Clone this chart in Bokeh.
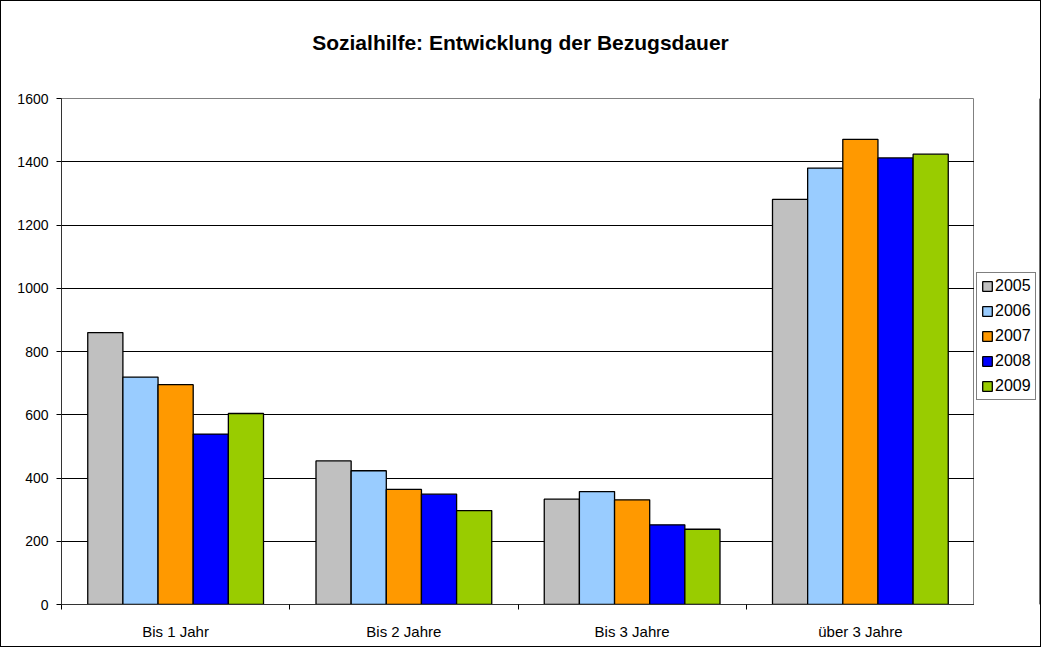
from bokeh.plotting import figure
from bokeh.layouts import row, column
from bokeh.models import ColumnDataSource, FixedTicker, Legend, LegendItem, Range1d, Div
from bokeh.transform import dodge
from bokeh.embed import file_html
from bokeh.resources import INLINE

title_text = "Sozialhilfe: Entwicklung der Bezugsdauer"
categories = ["Bis 1 Jahr", "Bis 2 Jahre", "Bis 3 Jahre", "über 3 Jahre"]
years = ["2005", "2006", "2007", "2008", "2009"]
v2005 = [860, 454, 333, 1281]
v2006 = [719, 423, 357, 1380]
v2007 = [695, 364, 331, 1471]
v2008 = [539, 349, 252, 1412]
v2009 = [604, 297, 238, 1424]
yticks = [0, 200, 400, 600, 800, 1000, 1200, 1400, 1600]
colors = ["#C0C0C0", "#99CCFF", "#FF9900", "#0000FF", "#99CC00"]

series = [v2005, v2006, v2007, v2008, v2009]
xpos = [i + 0.5 for i in range(len(categories))]
data = {"x": xpos}
for y, s in zip(years, series):
    data["y" + y] = s
source = ColumnDataSource(data)

FONT = "Liberation Sans"
TOP = 78
H = 567
PW, LW = 973, 66

head = Div(text=('<div style="width:%dpx;text-align:center;font-family:\'Liberation Sans\';'
                 'font-size:21px;font-weight:bold;line-height:24px;padding-top:30px;color:#000">%s</div>')
           % (PW + LW, title_text), width=PW + LW, height=TOP, margin=0)

p = figure(width=PW, height=H, output_backend="svg", toolbar_location=None, title=None,
           x_range=Range1d(0, len(categories)), y_range=Range1d(0, 1600),
           min_border_left=60, min_border_right=0, min_border_top=19, min_border_bottom=42)

bw = 0.154
offsets = [-2 * bw, -bw, 0, bw, 2 * bw]
for y, c, off in zip(years, colors, offsets):
    p.vbar(x=dodge("x", off, range=p.x_range), top="y" + y, width=bw, bottom=0,
           source=source, fill_color=c, line_color="#000000", line_width=1.3)

# legend panel (separate small figure to the right of the plot area)
lg = figure(width=LW, height=H, output_backend="svg", toolbar_location=None,
            x_axis_type=None, y_axis_type=None, min_border=0,
            x_range=Range1d(0, 1), y_range=Range1d(0, 1))
lg.outline_line_color = None
lg.grid.grid_line_color = None
dummy = ColumnDataSource({"x": [10], "top": [10]})
items = []
for y, c in zip(years, colors):
    r = lg.vbar(x="x", top="top", width=0.1, source=dummy,
                fill_color=c, line_color="#000000", line_width=1.3)
    items.append(LegendItem(label=y, renderers=[r]))

legend = Legend(items=items, location=(2, 204))
legend.label_text_font = FONT
legend.label_text_font_size = "16px"
legend.label_text_color = "#000000"
legend.glyph_width = 12
legend.glyph_height = 12
legend.spacing = 7
legend.padding = 4
legend.label_standoff = 2
legend.label_height = 16
legend.border_line_color = "#000000"
legend.border_line_width = 1
legend.background_fill_alpha = 1
lg.add_layout(legend)

# axes
p.xaxis.ticker = FixedTicker(ticks=xpos, minor_ticks=list(range(len(categories) + 1)))
p.xaxis.major_label_overrides = {x: c for x, c in zip(xpos, categories)}
p.xaxis.major_tick_out = 0
p.xaxis.major_tick_in = 0
p.xaxis.minor_tick_out = 5
p.xaxis.minor_tick_in = 0
p.xaxis.minor_tick_line_color = "#000000"
p.xaxis.major_label_standoff = 13
p.xaxis.major_label_text_font = FONT
p.xaxis.major_label_text_font_size = "15px"
p.xaxis.major_label_text_color = "#000000"
p.xaxis.axis_line_color = "#333333"

p.yaxis.ticker = FixedTicker(ticks=yticks)
p.yaxis.major_tick_out = 5
p.yaxis.major_tick_in = 0
p.yaxis.minor_tick_line_color = None
p.yaxis.major_label_standoff = 8
p.yaxis.major_label_text_font = FONT
p.yaxis.major_label_text_font_size = "14px"
p.yaxis.major_label_text_color = "#000000"
p.yaxis.axis_line_color = "#333333"
p.yaxis.major_tick_line_color = "#000000"

p.xgrid.grid_line_color = None
p.ygrid.ticker = FixedTicker(ticks=yticks)
p.ygrid.grid_line_color = "#000000"
p.ygrid.grid_line_width = 1
p.outline_line_color = "#808080"
p.outline_line_width = 1

layout = column(head, row(p, lg, spacing=0), spacing=0)
layout.styles = {"border": "1px solid black"}

open("out.html", "w").write(file_html(layout, INLINE))
